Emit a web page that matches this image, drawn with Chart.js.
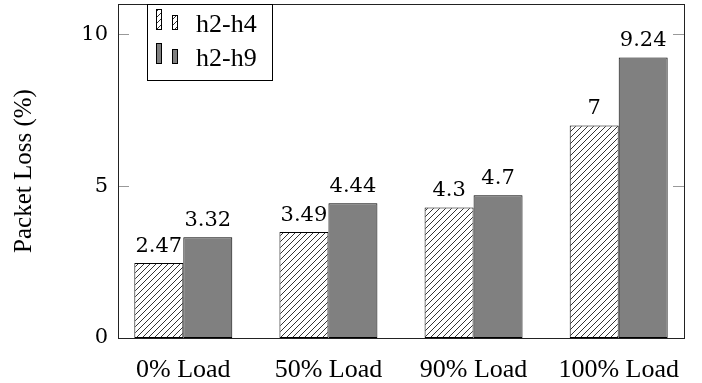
<!DOCTYPE html>
<html>
<head>
<meta charset="utf-8">
<script src="https://cdn.jsdelivr.net/npm/chart.js@4/dist/chart.umd.min.js"></script>
<style>
  html, body { margin: 0; padding: 0; background: #fff; }
  #wrap { width: 702px; height: 383px; }
</style>
</head>
<body>
<div id="wrap"><canvas id="lossChart" width="702" height="383"></canvas></div>
<script>
const categories = ["0% Load", "50% Load", "90% Load", "100% Load"]
const h2h4 = [2.47, 3.49, 4.3, 7]
const h2h9 = [3.32, 4.44, 4.7, 9.24]
const yTicks = [0, 5, 10]

const canvas = document.getElementById("lossChart")
const ctx = canvas.getContext("2d")

function makeHatch(){
    const c = document.createElement("canvas")
    c.width = 6
    c.height = 6
    const g = c.getContext("2d")
    g.fillStyle = "#fff"
    g.fillRect(0, 0, 6, 6)
    g.strokeStyle = "#000"
    g.lineWidth = 0.8
    g.beginPath()
    g.moveTo(0, 6); g.lineTo(6, 0)
    g.moveTo(-1, 1); g.lineTo(1, -1)
    g.moveTo(5, 7); g.lineTo(7, 5)
    g.stroke()
    return ctx.createPattern(c, "repeat")
}

const hatch = makeHatch()
const serif = "'Liberation Serif', 'Times New Roman', serif"
const cm = "'DejaVu Serif', serif"

// frame, inward ticks, value labels and the little legend box
const decorations = {
    id: "decorations",
    afterDatasetsDraw(chart){
        const c = chart.ctx
        const a = chart.chartArea
        const y = chart.scales.y

        c.save()
        c.strokeStyle = "#999"
        c.lineWidth = 1
        yTicks.forEach(function(t){
            const py = Math.round(y.getPixelForValue(t)) + 0.5
            c.beginPath()
            c.moveTo(a.left, py); c.lineTo(a.left + 11, py)
            c.moveTo(a.right, py); c.lineTo(a.right - 11, py)
            c.stroke()
        })

        c.strokeStyle = "#222"
        c.strokeRect(Math.round(a.left) + 0.5, Math.round(a.top) + 0.5,
            Math.round(a.right - a.left), Math.round(a.bottom - a.top))

        // values above bars
        c.fillStyle = "#000"
        c.font = "21px " + cm
        c.textAlign = "center"
        c.textBaseline = "alphabetic"
        chart.data.datasets.forEach(function(ds, i){
            chart.getDatasetMeta(i).data.forEach(function(bar, j){
                c.fillText(String(ds.data[j].y), bar.x, bar.y - 11)
            })
        })

        // legend
        const lx = 147, ly = 4
        c.fillStyle = "#fff"
        c.fillRect(lx, ly, 125, 76)
        c.strokeStyle = "#000"
        c.strokeRect(lx + 0.5, ly + 0.5, 125, 76)
        c.font = "26px " + serif
        c.textAlign = "left"
        chart.data.datasets.forEach(function(ds, i){
            const base = 30 + i * 34
            c.fillStyle = ds.backgroundColor
            c.strokeStyle = "#000"
            c.fillRect(156, base - 21, 6, 21)
            c.strokeRect(156.5, base - 20.5, 5, 20)
            c.fillRect(172, base - 15, 6, 15)
            c.strokeRect(172.5, base - 14.5, 5, 14)
            c.fillStyle = "#000"
            c.fillText(ds.label, 196, base + 2)
        })
        c.restore()
    }
}

new Chart(canvas, {
    type: "bar",
    data: {
        datasets: [
            {
                label: "h2-h4",
                data: h2h4.map(function(v, i){ return {x: i, y: v} }),
                backgroundColor: hatch,
                borderColor: "#000",
                borderWidth: 1,
                borderSkipped: false
            },
            {
                label: "h2-h9",
                data: h2h9.map(function(v, i){ return {x: i, y: v} }),
                backgroundColor: "#808080",
                borderColor: "#000",
                borderWidth: 1,
                borderSkipped: false
            }
        ]
    },
    options: {
        responsive: false,
        animation: false,
        devicePixelRatio: 1,
        layout: { padding: { top: 4, right: 18, left: 0, bottom: 0 } },
        datasets: { bar: { categoryPercentage: 0.675, barPercentage: 1 } },
        plugins: { legend: { display: false }, tooltip: { enabled: false } },
        scales: {
            x: {
                type: "linear",
                offset: false,
                min: -0.45,
                max: 3.45,
                grid: { display: false, drawTicks: false },
                border: { display: false },
                afterBuildTicks: function(scale){
                    scale.ticks = categories.map(function(c, i){ return {value: i} })
                },
                afterFit: function(scale){
                    scale.height = 45
                    scale.paddingLeft = 0
                    scale.paddingRight = 0
                },
                ticks: {
                    color: "#000",
                    padding: 17,
                    maxRotation: 0,
                    autoSkip: false,
                    font: { family: serif, size: 26 },
                    callback: function(v){ return categories[v] }
                }
            },
            y: {
                min: 0,
                max: 11,
                grid: { display: false, drawTicks: false },
                border: { display: false },
                afterBuildTicks: function(scale){
                    scale.ticks = yTicks.map(function(t){ return {value: t} })
                },
                afterFit: function(scale){
                    scale.width = 118
                    scale.paddingTop = 0
                    scale.paddingBottom = 0
                },
                ticks: {
                    color: "#000",
                    padding: 10,
                    font: { family: cm, size: 21 }
                },
                title: {
                    display: true,
                    text: "Packet Loss (%)",
                    color: "#000",
                    padding: { top: 9, bottom: 0 },
                    font: { family: serif, size: 25 }
                }
            }
        }
    },
    plugins: [decorations]
})
</script>
</body>
</html>
